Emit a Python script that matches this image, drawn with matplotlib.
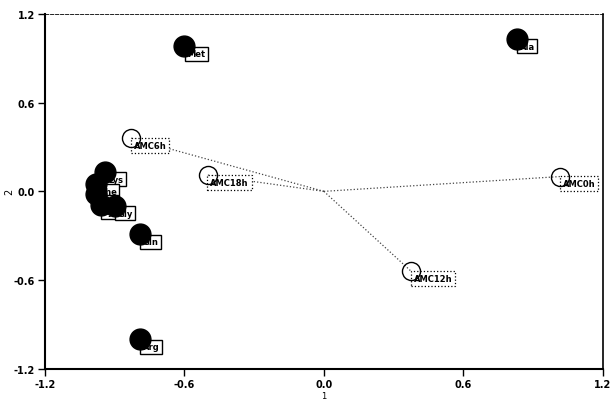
import matplotlib
matplotlib.use("Agg")
import matplotlib.pyplot as plt
from matplotlib import font_manager

# Data
aa_names = ["Lys", "Phe", "Leu", "Tyr", "Gly", "Gln", "Arg", "Met", "Ala"]
aa_x = [-0.94, -0.98, -0.98, -0.96, -0.90, -0.79, -0.79, -0.60, 0.83]
aa_y = [0.13, 0.05, -0.02, -0.09, -0.10, -0.29, -1.00, 0.98, 1.03]

amc_names = ["AMC0h", "AMC6h", "AMC12h", "AMC18h"]
amc_x = [1.015, -0.83, 0.375, -0.50]
amc_y = [0.10, 0.36, -0.54, 0.11]

ticks = [-1.2, -0.6, 0.0, 0.6, 1.2]
tick_labels = ["-1.2", "-0.6", "0.0", "0.6", "1.2"]

avail = {f.name for f in font_manager.fontManager.ttflist}
fam = ["Liberation Sans Narrow", "DejaVu Sans"] if "Liberation Sans Narrow" in avail else ["DejaVu Sans"]
plt.rcParams["font.family"] = fam

fig = plt.figure(figsize=(6.14, 4.02), dpi=100)
ax = fig.add_axes([0.073, 0.08, 0.909, 0.883])

# dotted lines from origin
for x, y in zip(amc_x, amc_y):
    ax.plot([0, x], [0, y], linestyle=":", color="#444444", linewidth=0.9, zorder=1)

# labels for amino acids (solid boxes)
for n, x, y in zip(aa_names, aa_x, aa_y):
    ax.annotate(n, (x, y), xytext=(2, -2), textcoords="offset points",
                ha="left", va="top", fontsize=6, fontweight="bold",
                bbox=dict(boxstyle="square,pad=0.3", fc="white", ec="black", lw=1.0),
                zorder=2)

# labels for AMC (dotted boxes)
for n, x, y in zip(amc_names, amc_x, amc_y):
    ax.annotate(n, (x, y), xytext=(2, -2), textcoords="offset points",
                ha="left", va="top", fontsize=6, fontweight="bold",
                bbox=dict(boxstyle="square,pad=0.35", fc="white", ec="black", lw=0.9, ls=":"),
                zorder=2)

ax.plot(aa_x, aa_y, "o", color="black", markersize=15, zorder=3)
ax.plot(amc_x, amc_y, "o", mfc="none", mec="black", markersize=13, mew=1.0, zorder=3)

ax.set_xlim(-1.2, 1.2)
ax.set_ylim(-1.2, 1.2)
ax.set_xticks(ticks)
ax.set_xticklabels(tick_labels)
ax.set_yticks(ticks)
ax.set_yticklabels(tick_labels)
ax.tick_params(direction="out", length=5, width=1, labelsize=7, pad=2)
for lab in ax.get_xticklabels() + ax.get_yticklabels():
    lab.set_fontweight("bold")
ax.set_xlabel("1", fontsize=6, labelpad=2)
ax.set_ylabel("2", fontsize=7)
ax.yaxis.set_label_coords(-0.055, 0.5)

ax.spines["left"].set_linewidth(1.5)
ax.spines["bottom"].set_linewidth(1.5)
ax.spines["right"].set_linewidth(1.2)
ax.spines["top"].set_linewidth(0.6)
ax.spines["top"].set_linestyle((0, (4, 2)))

fig.savefig("out.png", dpi=100)
